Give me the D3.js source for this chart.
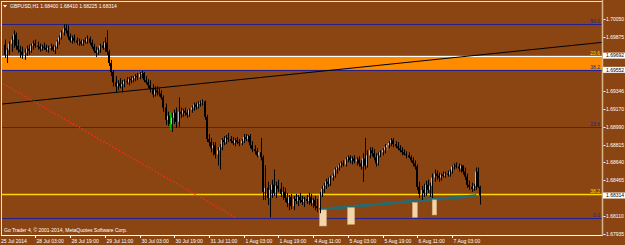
<!DOCTYPE html>
<html>
<head>
<meta charset="utf-8">
<script src="https://cdn.jsdelivr.net/npm/d3@7"></script>
<style>
html, body { margin: 0; padding: 0; background: #8b4513; }
svg { display: block; }
text { font-family: "Liberation Sans", Arial, sans-serif; }
</style>
</head>
<body>
<div id="chart"></div>
<script>
'use strict'
/* Datos del gráfico */
var symbol = 'GBPUSD,H1';
var lastQuote = ['1.68400', '1.68410', '1.68225', '1.68314'];
var copyright = 'Go Trader 4, \u00a9 2001-2014, MetaQuotes Software Corp.';

var opens = [1.6980,1.6970,1.6975,1.6981,1.6985,1.6990,1.6979,1.6975,1.6973,1.6970,
1.6972,1.6976,1.6974,1.6979,1.6981,1.6979,1.6978,1.6976,1.6978,1.6977,
1.6975,1.6977,1.6978,1.6975,1.6978,1.6983,1.6987,1.6992,1.6996,1.6994,
1.6988,1.6984,1.6987,1.6984,1.6982,1.6983,1.6981,1.6984,1.6983,1.6986,
1.6982,1.6978,1.6974,1.6972,1.6975,1.6979,1.6977,1.6982,1.6973,1.6962,
1.6953,1.6943,1.6939,1.6942,1.6939,1.6941,1.6944,1.6943,1.6946,1.6945,
1.6947,1.6949,1.6948,1.6951,1.6952,1.6945,1.6943,1.6940,1.6936,1.6931,
1.6935,1.6933,1.6932,1.6928,1.6918,1.6906,1.6910,1.6902,1.6908,1.6913,
1.6904,1.6914,1.6912,1.6915,1.6913,1.6911,1.6916,1.6918,1.6921,1.6919,
1.6922,1.6923,1.6924,1.6909,1.6887,1.6884,1.6878,1.6881,1.6872,1.6876,
1.6879,1.6886,1.6884,1.6888,1.6887,1.6885,1.6883,1.6886,1.6884,1.6883,
1.6885,1.6889,1.6887,1.6890,1.6881,1.6877,1.6875,1.6871,1.6874,1.6869,
1.6835,1.6839,1.6829,1.6837,1.6842,1.6834,1.6841,1.6838,1.6833,1.6835,
1.6829,1.6824,1.6830,1.6821,1.6828,1.6826,1.6830,1.6827,1.6825,1.6828,
1.6826,1.6830,1.6824,1.6827,1.6821,1.6819,1.6833,1.6838,1.6841,1.6845,
1.6843,1.6849,1.6851,1.6857,1.6859,1.6861,1.6863,1.6862,1.6867,1.6869,
1.6866,1.6868,1.6865,1.6867,1.6863,1.6860,1.6868,1.6861,1.6871,1.6876,
1.6873,1.6869,1.6863,1.6871,1.6874,1.6876,1.6879,1.6881,1.6883,1.6886,
1.6882,1.6880,1.6878,1.6876,1.6874,1.6872,1.6871,1.6869,1.6866,1.6863,
1.6860,1.6840,1.6833,1.6837,1.6834,1.6842,1.6837,1.6841,1.6849,1.6853,
1.6851,1.6849,1.6852,1.6851,1.6853,1.6852,1.6855,1.6860,1.6861,1.6860,
1.6858,1.6861,1.6855,1.6850,1.6842,1.6840,1.6838,1.6841,1.6855,1.68400];

var highs = [1.6985,1.6977,1.6983,1.6989,1.6994,1.6992,1.6985,1.6979,1.6978,1.6976,
1.6979,1.6980,1.6981,1.6984,1.6985,1.6983,1.6981,1.6980,1.6982,1.6980,
1.6979,1.6981,1.6980,1.6979,1.6985,1.6989,1.6994,1.7000,1.7000,1.6999,
1.6991,1.6989,1.6990,1.6987,1.6986,1.6985,1.6985,1.6987,1.6989,1.6988,
1.6985,1.6981,1.6978,1.6977,1.6981,1.6983,1.6987,1.6994,1.6975,1.6965,
1.6955,1.6949,1.6945,1.6947,1.6945,1.6946,1.6948,1.6948,1.6949,1.6949,
1.6951,1.6952,1.6953,1.6954,1.6953,1.6949,1.6946,1.6945,1.6941,1.6939,
1.6939,1.6937,1.6935,1.6930,1.6922,1.6914,1.6913,1.6913,1.6916,1.6918,
1.6928,1.6918,1.6917,1.6918,1.6916,1.6917,1.6920,1.6923,1.6923,1.6924,
1.6925,1.6926,1.6925,1.6911,1.6892,1.6888,1.6884,1.6884,1.6879,1.6882,
1.6888,1.6890,1.6891,1.6893,1.6890,1.6889,1.6888,1.6889,1.6887,1.6887,
1.6892,1.6892,1.6891,1.6892,1.6885,1.6881,1.6878,1.6876,1.6888,1.6871,
1.6861,1.6845,1.6842,1.6847,1.6857,1.6845,1.6847,1.6844,1.6840,1.6839,
1.6834,1.6832,1.6833,1.6831,1.6833,1.6832,1.6834,1.6831,1.6830,1.6832,
1.6834,1.6833,1.6829,1.6831,1.6828,1.6835,1.6841,1.6844,1.6848,1.6849,
1.6851,1.6853,1.6859,1.6860,1.6863,1.6865,1.6866,1.6869,1.6871,1.6871,
1.6870,1.6871,1.6869,1.6870,1.6866,1.6873,1.6888,1.6876,1.6879,1.6879,
1.6877,1.6873,1.6874,1.6876,1.6878,1.6882,1.6883,1.6885,1.6888,1.6888,
1.6885,1.6884,1.6881,1.6879,1.6877,1.6875,1.6874,1.6871,1.6869,1.6866,
1.6862,1.6845,1.6841,1.6843,1.6846,1.6847,1.6844,1.6853,1.6857,1.6856,
1.6854,1.6853,1.6855,1.6855,1.6856,1.6857,1.6861,1.6863,1.6864,1.6863,
1.6862,1.6861,1.6859,1.6853,1.6846,1.6844,1.6843,1.6859,1.6859,1.68410];

var lows = [1.6967,1.6962,1.6970,1.6973,1.6977,1.6975,1.6972,1.6967,1.6966,1.6965,
1.6969,1.6970,1.6972,1.6975,1.6977,1.6975,1.6973,1.6974,1.6975,1.6973,
1.6972,1.6974,1.6973,1.6971,1.6976,1.6980,1.6985,1.6989,1.6991,1.6985,
1.6982,1.6981,1.6982,1.6980,1.6979,1.6979,1.6979,1.6981,1.6981,1.6980,
1.6976,1.6972,1.6968,1.6970,1.6972,1.6975,1.6973,1.6970,1.6959,1.6949,
1.6939,1.6933,1.6935,1.6937,1.6933,1.6938,1.6941,1.6940,1.6942,1.6943,
1.6944,1.6945,1.6946,1.6947,1.6943,1.6941,1.6937,1.6933,1.6928,1.6929,
1.6930,1.6929,1.6926,1.6914,1.6901,1.6900,1.6896,1.6894,1.6902,1.6898,
1.6899,1.6908,1.6909,1.6910,1.6908,1.6909,1.6913,1.6915,1.6916,1.6917,
1.6919,1.6920,1.6906,1.6884,1.6880,1.6874,1.6871,1.6868,1.6861,1.6857,
1.6876,1.6881,1.6882,1.6884,1.6883,1.6881,1.6880,1.6882,1.6880,1.6881,
1.6883,1.6885,1.6884,1.6878,1.6874,1.6872,1.6869,1.6868,1.6866,1.6827,
1.6827,1.6822,1.6810,1.6829,1.6831,1.6829,1.6835,1.6830,1.6827,1.6825,
1.6820,1.6817,1.6818,1.6817,1.6823,1.6821,1.6824,1.6822,1.6820,1.6823,
1.6822,1.6821,1.6819,1.6817,1.6815,1.6814,1.6830,1.6834,1.6838,1.6840,
1.6841,1.6846,1.6849,1.6853,1.6856,1.6859,1.6860,1.6860,1.6864,1.6863,
1.6862,1.6863,1.6861,1.6860,1.6857,1.6845,1.6857,1.6859,1.6868,1.6870,
1.6866,1.6860,1.6861,1.6869,1.6871,1.6873,1.6876,1.6878,1.6880,1.6879,
1.6878,1.6876,1.6874,1.6871,1.6871,1.6868,1.6868,1.6864,1.6860,1.6857,
1.6837,1.6829,1.6827,1.6830,1.6831,1.6834,1.6830,1.6829,1.6845,1.6847,
1.6845,1.6846,1.6849,1.6849,1.6850,1.6850,1.6853,1.6857,1.6858,1.6855,
1.6854,1.6852,1.6847,1.6839,1.6837,1.6835,1.6836,1.6837,1.6839,1.68225];

var closes = [1.6970,1.6975,1.6981,1.6985,1.6990,1.6979,1.6975,1.6973,1.6970,1.6972,
1.6976,1.6974,1.6979,1.6981,1.6979,1.6978,1.6976,1.6978,1.6977,1.6975,
1.6977,1.6978,1.6975,1.6978,1.6983,1.6987,1.6992,1.6996,1.6994,1.6988,
1.6984,1.6987,1.6984,1.6982,1.6983,1.6981,1.6984,1.6983,1.6986,1.6982,
1.6978,1.6974,1.6972,1.6975,1.6979,1.6977,1.6982,1.6973,1.6962,1.6953,
1.6943,1.6939,1.6942,1.6939,1.6941,1.6944,1.6943,1.6946,1.6945,1.6947,
1.6949,1.6948,1.6951,1.6952,1.6945,1.6943,1.6940,1.6936,1.6931,1.6935,
1.6933,1.6932,1.6928,1.6918,1.6906,1.6910,1.6902,1.6908,1.6913,1.6904,
1.6914,1.6912,1.6915,1.6913,1.6911,1.6916,1.6918,1.6921,1.6919,1.6922,
1.6923,1.6924,1.6909,1.6887,1.6884,1.6878,1.6881,1.6872,1.6876,1.6879,
1.6886,1.6884,1.6888,1.6887,1.6885,1.6883,1.6886,1.6884,1.6883,1.6885,
1.6889,1.6887,1.6890,1.6881,1.6877,1.6875,1.6871,1.6874,1.6869,1.6835,
1.6839,1.6829,1.6837,1.6842,1.6834,1.6841,1.6838,1.6833,1.6835,1.6829,
1.6824,1.6830,1.6821,1.6828,1.6826,1.6830,1.6827,1.6825,1.6828,1.6826,
1.6830,1.6824,1.6827,1.6821,1.6819,1.6833,1.6838,1.6841,1.6845,1.6843,
1.6849,1.6851,1.6857,1.6859,1.6861,1.6863,1.6862,1.6867,1.6869,1.6866,
1.6868,1.6865,1.6867,1.6863,1.6860,1.6868,1.6861,1.6871,1.6876,1.6873,
1.6869,1.6863,1.6871,1.6874,1.6876,1.6879,1.6881,1.6883,1.6886,1.6882,
1.6880,1.6878,1.6876,1.6874,1.6872,1.6871,1.6869,1.6866,1.6863,1.6860,
1.6840,1.6833,1.6837,1.6834,1.6842,1.6837,1.6841,1.6849,1.6853,1.6851,
1.6849,1.6852,1.6851,1.6853,1.6852,1.6855,1.6860,1.6861,1.6860,1.6858,
1.6861,1.6855,1.6850,1.6842,1.6840,1.6838,1.6841,1.6855,1.6840,1.68314];

/* Eje de tiempo: índice de barra y etiqueta */
var firstLabel = '25 Jul 2014';
var timeTicks = [14, 30, 46, 62, 78, 94, 110, 126, 142, 158, 174, 190, 206];
var timeLabels = ['28 Jul 03:00', '28 Jul 19:00', '29 Jul 11:00', '30 Jul 03:00', '30 Jul 19:00',
  '31 Jul 11:00', '1 Aug 03:00', '1 Aug 19:00', '4 Aug 11:00', '5 Aug 03:00',
  '5 Aug 19:00', '6 Aug 11:00', '7 Aug 03:00'];

/* Eje de precios (las marcas tapadas por las cajas no se escriben) */
var priceTicks = [1.70050, 1.69875, 1.69346, 1.69170, 1.68990,
  1.68815, 1.68640, 1.68465, 1.68110, 1.67935];
var markedPrices = [1.69692, 1.69552, 1.68314];

/* Niveles Fibonacci */
var fibNames = ['50.0', '23.6', '38.2', '23.6', '38.2', '0.0'];
var fibPrices = [1.70004, 1.69692, 1.69552, 1.68992, 1.68326, 1.68092];

/* Objetos dibujados: rectángulo, líneas de tendencia, cajas */
var bandPrices = [1.69552, 1.69692];
var trendBlack = [[-2.3, 1.69213], [275.3, 1.69823]];
var trendRed = [[-2.3, 1.69432], [105.9, 1.68102]];
var trendTeal = [[145.3, 1.68178], [217.2, 1.68312]];
var lowBoxes = [[145, 148.1, 1.68172, 1.68014], [157.9, 161.1, 1.68194, 1.68031],
  [187.8, 190, 1.68244, 1.68100], [196.9, 198.9, 1.68271, 1.68123]];
var signalBars = [76, 117, 176];

var w = 625, h = 245;
var right = 602, bottom = 235;

function dibujo() {
  var svg = d3.select('#chart').append('svg')
    .attr('width', w).attr('height', h);

  svg.append('rect').attr('width', w).attr('height', h).attr('fill', '#8b4513');

  var xScale = d3.scaleLinear().domain([0, 219]).range([5, 480.2]);
  var yScale = d3.scaleLinear().domain([1.67935, 1.70050]).range([234, 19.3]);

  svg.append('clipPath').attr('id', 'plot')
    .append('rect').attr('x', 2).attr('y', 2).attr('width', right - 2).attr('height', bottom - 2);
  var g = svg.append('g').attr('clip-path', 'url(#plot)');

  // rectángulo naranja
  g.append('rect')
    .attr('x', 0).attr('width', right)
    .attr('y', yScale(bandPrices[1]))
    .attr('height', yScale(bandPrices[0]) - yScale(bandPrices[1]))
    .attr('fill', '#ff8c00');

  // niveles fibo
  var fibColors = ['#24208c', '#ffffff', '#24208c', '#3a2276', '#ffd800', '#24208c'];
  var labelColors = ['#24208c', '#ffd800', '#24208c', '#24208c', '#ffd800', '#24208c'];
  fibPrices.forEach(function (p, i) {
    var y = Math.round(yScale(p)) + 0.5;
    g.append('line').attr('x1', 0).attr('x2', right).attr('y1', y).attr('y2', y)
      .attr('stroke', fibColors[i]).attr('stroke-width', i === 4 ? 1.5 : 1);
    svg.append('text').attr('x', 600).attr('y', y - 1.5)
      .attr('text-anchor', 'end').attr('font-size', 5)
      .attr('fill', labelColors[i]).text(fibNames[i]);
  });

  // líneas de tendencia
  var line = d3.line().x(function (d) { return xScale(d[0]); }).y(function (d) { return yScale(d[1]); });
  g.append('path').attr('d', line(trendBlack)).attr('stroke', '#000').attr('fill', 'none').attr('stroke-width', 1);
  g.append('path').attr('d', line(trendRed)).attr('stroke', '#ff2a1a').attr('fill', 'none')
    .attr('stroke-width', 1.3).attr('stroke-dasharray', '1.5,2');
  g.append('path').attr('d', line(trendTeal)).attr('stroke', '#2a6a6c').attr('fill', 'none').attr('stroke-width', 3);

  // cajas bajo los mínimos
  g.selectAll('rect.low').data(lowBoxes).enter().append('rect')
    .attr('class', 'low')
    .attr('x', function (d) { return xScale(d[0]); })
    .attr('width', function (d) { return xScale(d[1]) - xScale(d[0]); })
    .attr('y', function (d) { return yScale(d[2]); })
    .attr('height', function (d) { return yScale(d[3]) - yScale(d[2]); })
    .attr('fill', '#f2d6aa').attr('stroke', '#d9ad7c').attr('stroke-width', 0.6);

  // velas
  var bars = d3.range(opens.length);
  var cx = function (i) { return Math.round(xScale(i)); };
  g.selectAll('rect.body').data(bars).enter().append('rect')
    .attr('class', 'body')
    .attr('x', function (i) { return cx(i) - 1; })
    .attr('width', 2)
    .attr('y', function (i) { return yScale(Math.max(opens[i], closes[i])); })
    .attr('height', function (i) { return Math.max(1, Math.abs(yScale(opens[i]) - yScale(closes[i]))); })
    .attr('fill', function (i) { return closes[i] > opens[i] ? '#b4bcc8' : '#000'; });
  g.selectAll('line.wick').data(bars).enter().append('line')
    .attr('class', 'wick')
    .attr('x1', function (i) { return cx(i) + 0.5; })
    .attr('x2', function (i) { return cx(i) + 0.5; })
    .attr('y1', function (i) { return yScale(highs[i]); })
    .attr('y2', function (i) { return yScale(lows[i]); })
    .attr('stroke', function (i) { return signalBars.indexOf(i) >= 0 ? '#00c000' : '#000'; })
    .attr('stroke-width', 1);

  // marco
  svg.append('line').attr('x1', 1.5).attr('x2', 1.5).attr('y1', 1).attr('y2', bottom).attr('stroke', '#f0e0d0');
  svg.append('line').attr('x1', 1).attr('x2', right).attr('y1', 1.5).attr('y2', 1.5).attr('stroke', '#f0e0d0');
  svg.append('line').attr('x1', 1).attr('x2', right + 1).attr('y1', bottom + 0.5).attr('y2', bottom + 0.5).attr('stroke', '#ffffff');
  svg.append('line').attr('x1', right + 0.5).attr('x2', right + 0.5).attr('y1', 0).attr('y2', bottom + 1)
    .attr('stroke', '#d8b48c').attr('stroke-width', 1.5);

  // eje de precios
  priceTicks.forEach(function (p) {
    var y = Math.round(yScale(p)) + 0.5;
    svg.append('line').attr('x1', right + 1.5).attr('x2', right + 3.5).attr('y1', y).attr('y2', y).attr('stroke', '#fff');
    svg.append('text').attr('x', 606).attr('y', y + 1.8).attr('font-size', 5)
      .attr('fill', '#fff').text(p.toFixed(5));
  });
  markedPrices.forEach(function (p) {
    var y = yScale(p);
    svg.append('rect').attr('x', right + 1).attr('y', y - 3).attr('width', w - right - 1).attr('height', 6).attr('fill', '#fff');
    svg.append('text').attr('x', 606).attr('y', y + 1.8).attr('font-size', 5)
      .attr('fill', '#000').text(p.toFixed(5));
  });

  // eje de tiempo
  svg.append('text').attr('x', 1).attr('y', 243).attr('font-size', 5).attr('fill', '#fff').text(firstLabel);
  timeTicks.forEach(function (t, i) {
    var x = Math.round(xScale(t)) + 0.5;
    svg.append('line').attr('x1', x).attr('x2', x).attr('y1', bottom + 1).attr('y2', bottom + 3).attr('stroke', '#fff');
    svg.append('text').attr('x', x + 1).attr('y', 243).attr('font-size', 5).attr('fill', '#fff').text(timeLabels[i]);
  });

  // textos
  svg.append('path').attr('d', 'M3,5 L7,5 L5,7.5 Z').attr('fill', '#fff');
  svg.append('text').attr('x', 10).attr('y', 8).attr('font-size', 5).attr('fill', '#fff')
    .text(symbol + '  ' + lastQuote.join(' '));
  svg.append('text').attr('x', 4).attr('y', 232).attr('font-size', 5).attr('fill', '#fff').text(copyright);
}

dibujo();
</script>
</body>
</html>
